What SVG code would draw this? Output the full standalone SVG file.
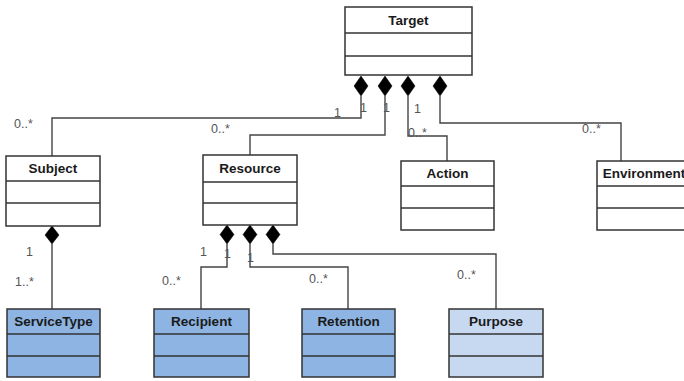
<svg xmlns="http://www.w3.org/2000/svg" width="684" height="381" viewBox="0 0 684 381">
<defs>
<style>
.box{fill:#ffffff;stroke:#333333;stroke-width:1.5}
.dark{fill:#8DB4E2}
.light{fill:#C6D9F1}
.sep{stroke:#333333;stroke-width:1.5}
.title{font-family:"Liberation Sans",Arial,sans-serif;font-weight:bold;font-size:13.5px;fill:#1a1a1a;text-anchor:middle}
.conn{fill:none;stroke:#444444;stroke-width:1.4}
.lbl{font-family:"Liberation Sans",Arial,sans-serif;font-size:12.5px;fill:#555555}
.dia{fill:#000000;stroke:#000000;stroke-width:0.5}
</style>
</defs>
<rect width="684" height="381" fill="#ffffff"/>

<g id="connectors">
<path class="conn" d="M361 96 V118 H52 V156"/>
<path class="conn" d="M385 96 V135 H250 V155"/>
<path class="conn" d="M408 96 V136 H447 V161"/>
<path class="conn" d="M440 96 V123 H621 V161"/>
<path class="conn" d="M52 244 V309"/>
<path class="conn" d="M227 244 V267 H201 V309"/>
<path class="conn" d="M250 244 V267 H348 V309"/>
<path class="conn" d="M273 244 V254 H496 V309"/>
<polygon class="dia" points="361,76 368,86 361,96 354,86"/>
<polygon class="dia" points="385,76 392,86 385,96 378,86"/>
<polygon class="dia" points="408,76 415,86 408,96 401,86"/>
<polygon class="dia" points="440,76 447,86 440,96 433,86"/>
<polygon class="dia" points="52,226 59,235 52,244 45,235"/>
<polygon class="dia" points="227,225 234,234.5 227,244 220,234.5"/>
<polygon class="dia" points="250,225 257,234.5 250,244 243,234.5"/>
<polygon class="dia" points="273,225 280,234.5 273,244 266,234.5"/>
<text class="lbl" x="334" y="117">1</text>
<text class="lbl" x="360" y="112">1</text>
<text class="lbl" x="383" y="112">1</text>
<text class="lbl" x="414" y="113">1</text>
<text class="lbl" x="14" y="128">0..*</text>
<text class="lbl" x="211" y="133">0..*</text>
<text class="lbl" x="408" y="137">0..*</text>
<text class="lbl" x="582" y="133">0..*</text>
<text class="lbl" x="26" y="256">1</text>
<text class="lbl" x="15" y="286">1..*</text>
<text class="lbl" x="200" y="256">1</text>
<text class="lbl" x="224" y="258">1</text>
<text class="lbl" x="247" y="262">1</text>
<text class="lbl" x="162" y="285">0..*</text>
<text class="lbl" x="309" y="283">0..*</text>
<text class="lbl" x="457" y="279">0..*</text>
</g>

<g id="target">
<rect class="box" x="345" y="7" width="127" height="68"/>
<line class="sep" x1="345" y1="33" x2="472" y2="33"/>
<line class="sep" x1="345" y1="56" x2="472" y2="56"/>
<text class="title" x="408.5" y="25">Target</text>
</g>

<g id="subject">
<rect class="box" x="6" y="156" width="94" height="70"/>
<line class="sep" x1="6" y1="181" x2="100" y2="181"/>
<line class="sep" x1="6" y1="203" x2="100" y2="203"/>
<text class="title" x="53" y="173">Subject</text>
</g>

<g id="resource">
<rect class="box" x="203" y="155" width="94" height="70"/>
<line class="sep" x1="203" y1="182" x2="297" y2="182"/>
<line class="sep" x1="203" y1="203" x2="297" y2="203"/>
<text class="title" x="250" y="173">Resource</text>
</g>

<g id="action">
<rect class="box" x="401" y="161" width="93" height="69"/>
<line class="sep" x1="401" y1="186" x2="494" y2="186"/>
<line class="sep" x1="401" y1="208" x2="494" y2="208"/>
<text class="title" x="447.5" y="178">Action</text>
</g>

<g id="environment">
<rect class="box" x="597" y="161" width="94" height="69"/>
<line class="sep" x1="597" y1="186" x2="691" y2="186"/>
<line class="sep" x1="597" y1="208" x2="691" y2="208"/>
<text class="title" x="644" y="178">Environment</text>
</g>

<g id="servicetype">
<rect class="box dark" x="7" y="309" width="93" height="68"/>
<line class="sep" x1="7" y1="334" x2="100" y2="334"/>
<line class="sep" x1="7" y1="356" x2="100" y2="356"/>
<text class="title" x="53.5" y="326">ServiceType</text>
</g>

<g id="recipient">
<rect class="box dark" x="154" y="309" width="95" height="68"/>
<line class="sep" x1="154" y1="334" x2="249" y2="334"/>
<line class="sep" x1="154" y1="356" x2="249" y2="356"/>
<text class="title" x="201.5" y="326">Recipient</text>
</g>

<g id="retention">
<rect class="box dark" x="302" y="309" width="93" height="68"/>
<line class="sep" x1="302" y1="334" x2="395" y2="334"/>
<line class="sep" x1="302" y1="356" x2="395" y2="356"/>
<text class="title" x="348.5" y="326">Retention</text>
</g>

<g id="purpose">
<rect class="box light" x="449" y="309" width="94" height="68"/>
<line class="sep" x1="449" y1="334" x2="543" y2="334"/>
<line class="sep" x1="449" y1="356" x2="543" y2="356"/>
<text class="title" x="496" y="326">Purpose</text>
</g>
</svg>
